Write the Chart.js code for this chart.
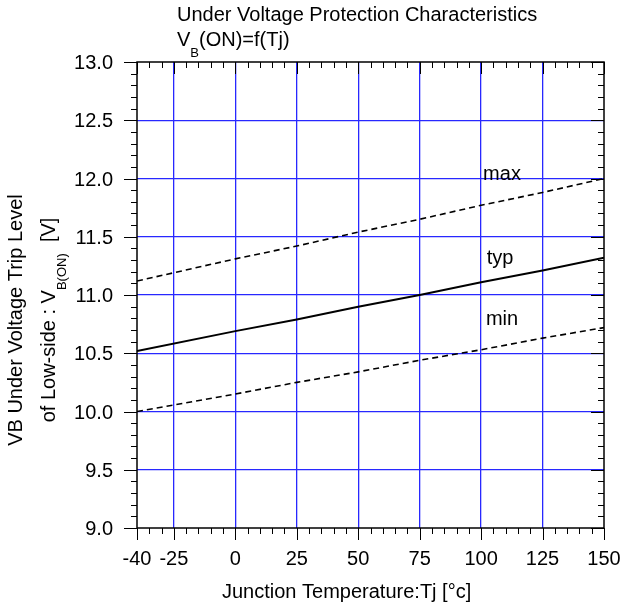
<!DOCTYPE html>
<html>
<head>
<meta charset="utf-8">
<script src="https://cdn.jsdelivr.net/npm/chart.js@4"></script>
<style>
  html, body { margin: 0; padding: 0; background: #fff; }
  #wrap { width: 622px; height: 612px; }
</style>
</head>
<body>
<div id="wrap"><canvas id="graph1" width="622" height="612"></canvas></div>
<script>
// temperature points (°C)
var temps = [-40, 0, 25, 50, 75, 100, 125, 150];
// VB(ON) trip level values
var vMax = [11.12, 11.31, 11.42, 11.54, 11.65, 11.77, 11.88, 12.00];
var vTyp = [10.52, 10.69, 10.79, 10.90, 11.00, 11.11, 11.21, 11.32];
var vMin = [10.00, 10.15, 10.25, 10.34, 10.44, 10.53, 10.63, 10.72];

var xTicks = [-40, -25, 0, 25, 50, 75, 100, 125, 150];
var yTicks = [9.0, 9.5, 10.0, 10.5, 11.0, 11.5, 12.0, 12.5, 13.0];

// curve names and where they sit [T, V] (baseline)
var curveNames = ['max', 'typ', 'min'];
var namePos = [[108.5, 11.99], [107.7, 11.27], [108.5, 10.74]];

var FONT = '"Liberation Sans", Arial, sans-serif';
var BLUE = 'rgb(40,40,255)';

function pts(vals) {
  return temps.map(function (t, i) { return { x: t, y: vals[i] }; });
}

// ticks, frame, labels, titles, curve names
var decor = {
  id: 'decor',
  afterDatasetsDraw: function (chart) {
    var c = chart.ctx, a = chart.chartArea;
    var xs = chart.scales.x, ys = chart.scales.y;
    c.save();
    c.strokeStyle = '#000';
    c.lineWidth = 1;
    c.beginPath();
    // x ticks: bottom outside, top inside
    for (var t = -40; t <= 150; t += 5) {
      var px = Math.round(xs.getPixelForValue(t)) + 0.5;
      var major = xTicks.indexOf(t) >= 0;
      var len = major ? 12 : 6;
      c.moveTo(px, a.bottom); c.lineTo(px, a.bottom + len);
      c.moveTo(px, a.top); c.lineTo(px, a.top + len);
    }
    // y ticks: left outside, right inside
    for (var k = 0; k <= 40; k++) {
      var v = 9 + k * 0.1;
      var py = Math.round(ys.getPixelForValue(v)) + 0.5;
      var majorY = k % 5 === 0;
      var l2 = majorY ? 13 : 6;
      c.moveTo(a.left - l2, py); c.lineTo(a.left, py);
      c.moveTo(a.right, py); c.lineTo(a.right - l2, py);
    }
    c.stroke();
    c.lineWidth = 1.5;
    c.strokeRect(a.left, a.top, a.right - a.left, a.bottom - a.top);

    c.fillStyle = '#000';
    c.font = '20px ' + FONT;
    c.textBaseline = 'alphabetic';

    // tick labels
    c.textAlign = 'center';
    xTicks.forEach(function (t) {
      c.fillText(String(t), xs.getPixelForValue(t), 565);
    });
    c.textAlign = 'right';
    yTicks.forEach(function (v) {
      c.fillText(v.toFixed(1), 113, ys.getPixelForValue(v) + 7);
    });

    // curve names
    c.textAlign = 'center';
    curveNames.forEach(function (n, i) {
      c.fillText(n, xs.getPixelForValue(namePos[i][0]), ys.getPixelForValue(namePos[i][1]));
    });

    // title
    c.textAlign = 'left';
    c.fillText('Under Voltage Protection Characteristics', 177, 21);
    var x0 = 177;
    c.fillText('V', x0, 46);
    x0 += c.measureText('V').width;
    c.font = '13px ' + FONT;
    c.fillText('B', x0, 57);
    x0 += c.measureText('B').width;
    c.font = '20px ' + FONT;
    c.fillText('(ON)=f(Tj)', x0, 46);

    // x title
    c.textAlign = 'left';
    c.fillText('Junction Temperature:Tj [\u00b0c]', 222, 598);

    // y title (rotated)
    c.save();
    c.translate(22, 320);
    c.rotate(-Math.PI / 2);
    c.textAlign = 'center';
    c.fillText('VB Under Voltage Trip Level', 0, 0);
    c.restore();

    c.save();
    c.translate(55, 320);
    c.rotate(-Math.PI / 2);
    c.textAlign = 'left';
    var p1 = 'of Low-side : V', p2 = 'B(ON)', p3 = '  [V]';
    c.font = '20px ' + FONT;
    var w1 = c.measureText(p1).width;
    c.font = '13px ' + FONT;
    var w2 = c.measureText(p2).width;
    c.font = '20px ' + FONT;
    var w3 = c.measureText(p3).width;
    var sx = -(w1 + w2 + w3) / 2;
    c.fillText(p1, sx, 0);
    c.font = '13px ' + FONT;
    c.fillText(p2, sx + w1, 11);
    c.font = '20px ' + FONT;
    c.fillText(p3, sx + w1 + w2, 0);
    c.restore();
    c.restore();
  }
};

function gridColor(ctx, ends) {
  var v = ctx.tick ? ctx.tick.value : null;
  if (v === ends[0] || v === ends[1]) return 'rgba(0,0,0,0)';
  return BLUE;
}

var graph1 = document.getElementById('graph1').getContext('2d');
var chart = new Chart(graph1, {
  type: 'line',
  data: {
    datasets: [
      { label: 'max', data: pts(vMax), borderColor: '#000', borderWidth: 1.6, borderDash: [6, 4], pointRadius: 0, fill: false },
      { label: 'typ', data: pts(vTyp), borderColor: '#000', borderWidth: 2, pointRadius: 0, fill: false },
      { label: 'min', data: pts(vMin), borderColor: '#000', borderWidth: 1.6, borderDash: [6, 4], pointRadius: 0, fill: false }
    ]
  },
  options: {
    responsive: false,
    animation: false,
    layout: { padding: { top: 62, right: 18, left: 0, bottom: 0 } },
    plugins: { legend: { display: false }, tooltip: { enabled: false }, title: { display: false } },
    scales: {
      x: {
        type: 'linear',
        min: -40, max: 150,
        afterBuildTicks: function (s) { s.ticks = xTicks.map(function (v) { return { value: v }; }); },
        afterFit: function (s) { s.height = 84; s.paddingLeft = 0; s.paddingRight = 0; },
        grid: { color: function (ctx) { return gridColor(ctx, [-40, 150]); }, lineWidth: 1.3, drawTicks: false },
        border: { display: false },
        ticks: { display: false }
      },
      y: {
        type: 'linear',
        min: 9, max: 13,
        afterBuildTicks: function (s) { s.ticks = yTicks.map(function (v) { return { value: v }; }); },
        afterFit: function (s) { s.width = 137; s.paddingTop = 0; s.paddingBottom = 0; },
        grid: { color: function (ctx) { return gridColor(ctx, [9, 13]); }, lineWidth: 1.3, drawTicks: false },
        border: { display: false },
        ticks: { display: false }
      }
    }
  },
  plugins: [decor]
});
</script>
</body>
</html>
